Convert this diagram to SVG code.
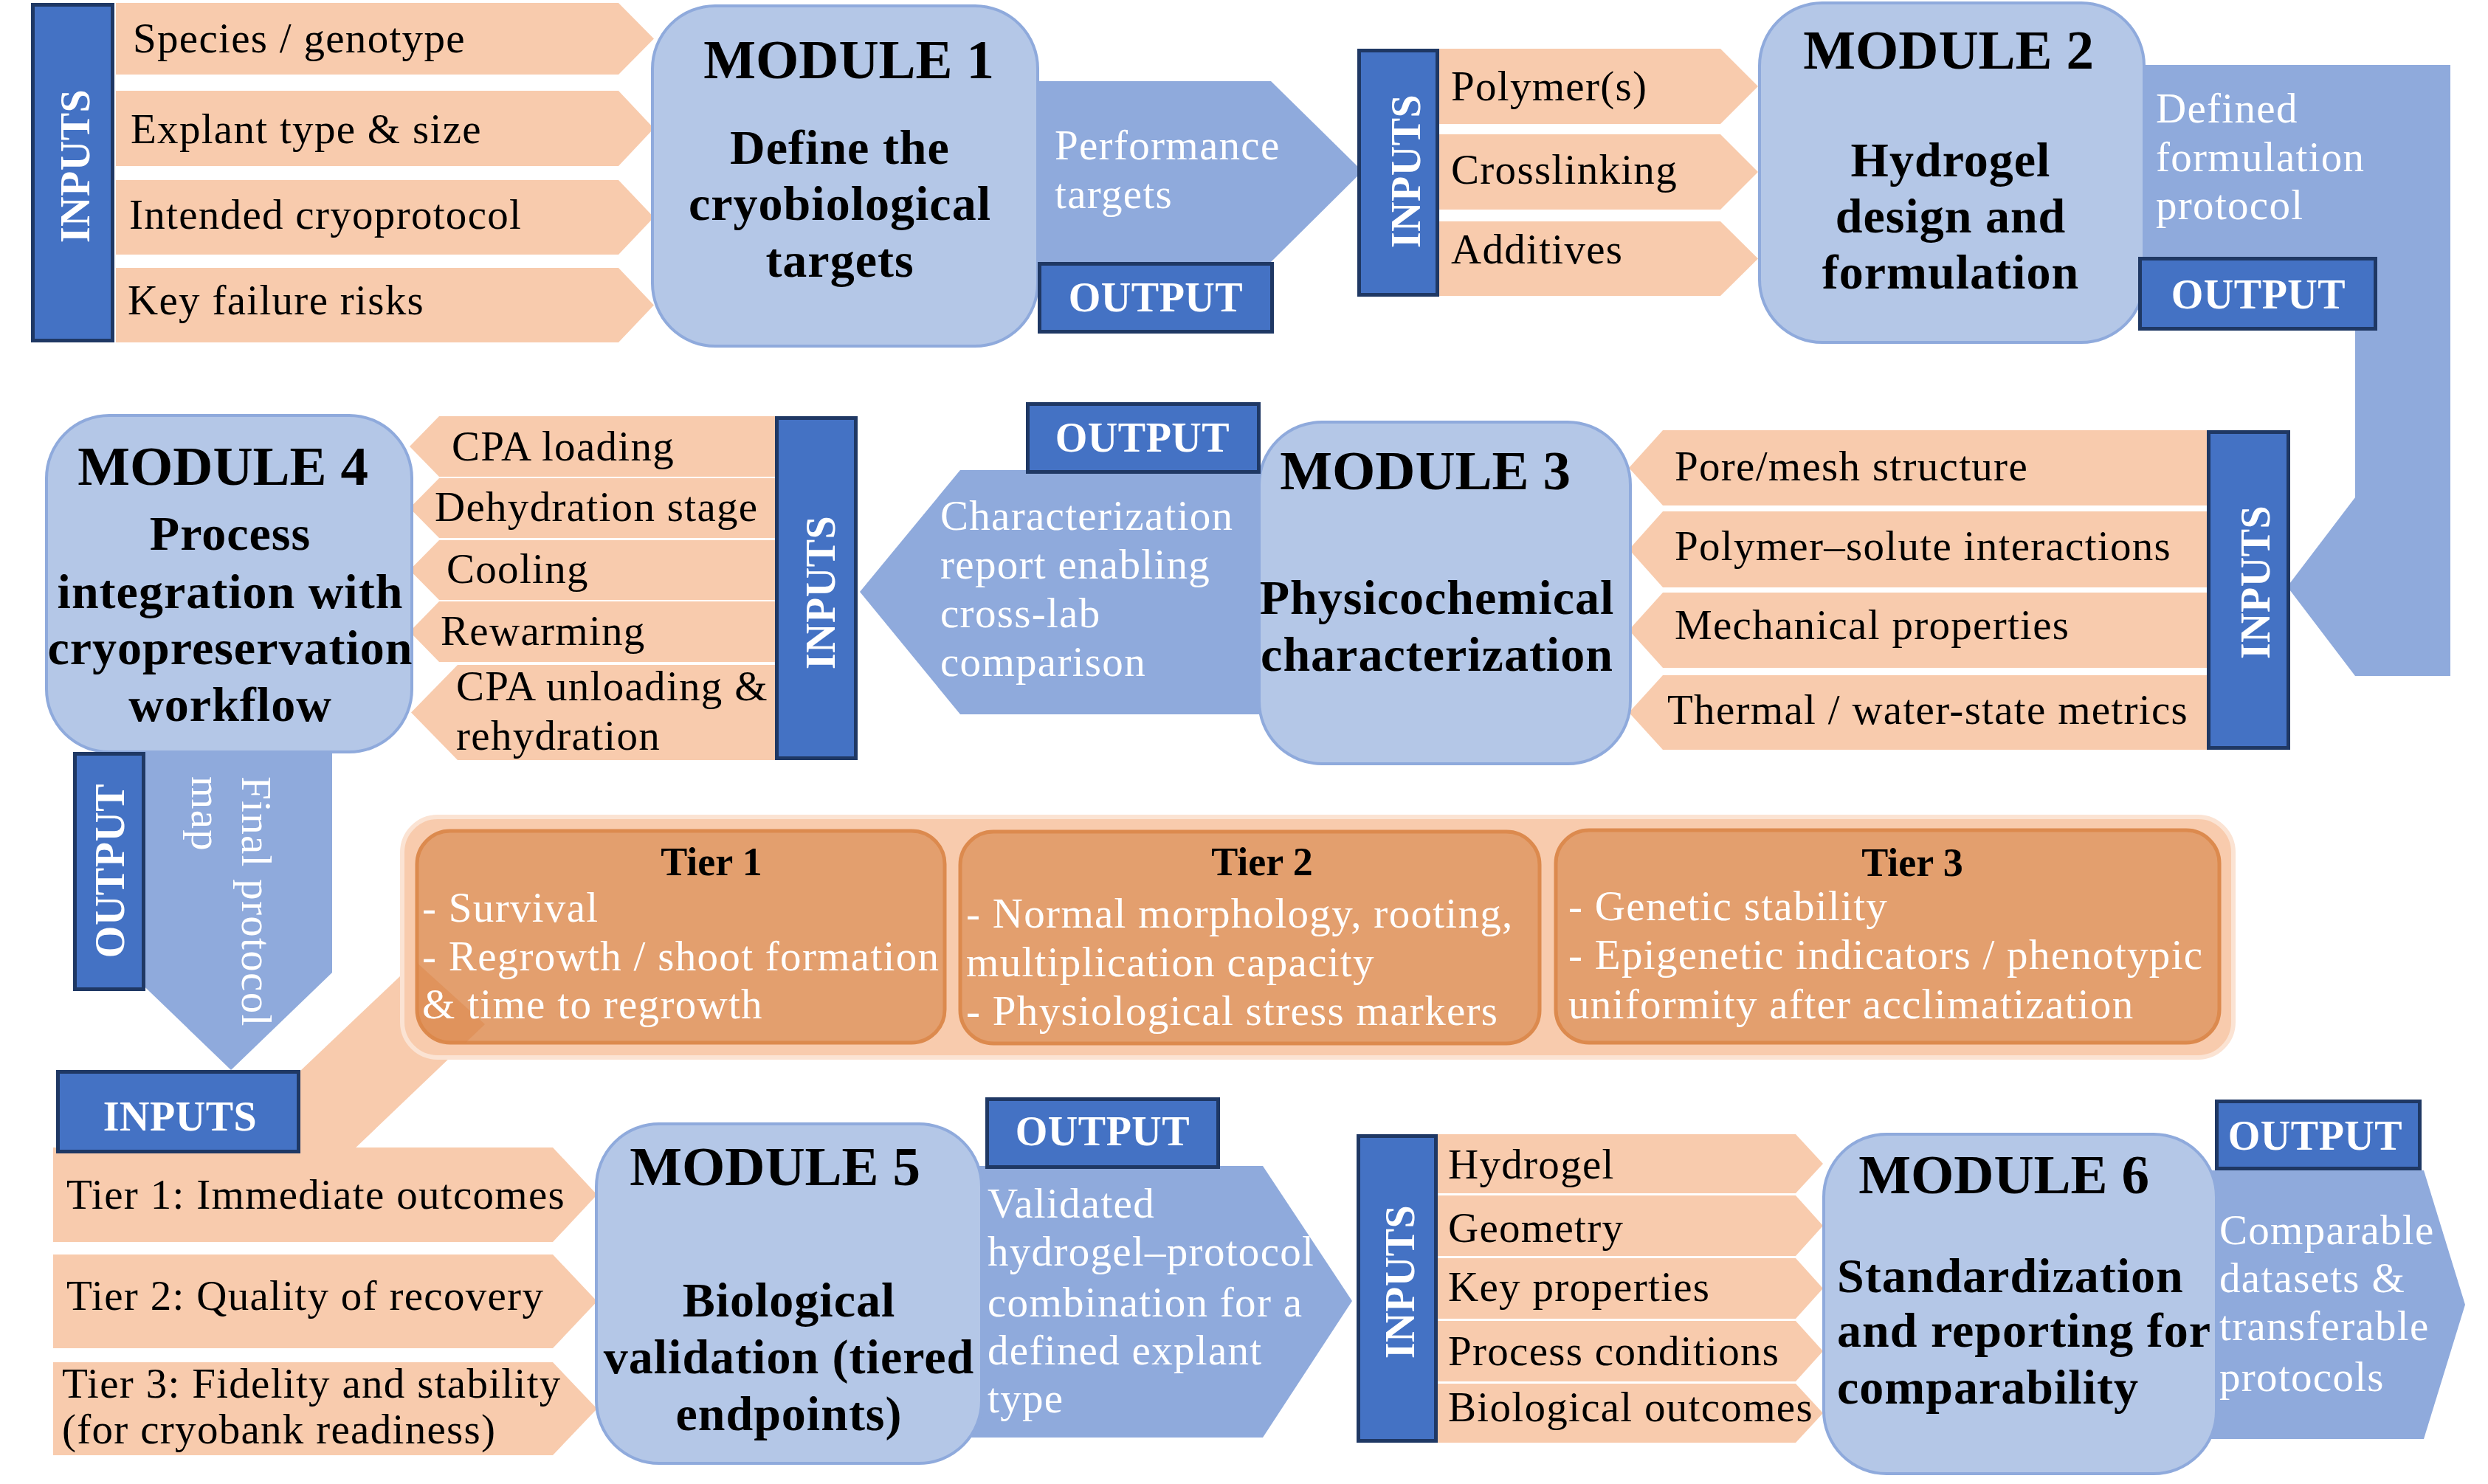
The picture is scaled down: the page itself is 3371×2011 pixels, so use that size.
<svg xmlns="http://www.w3.org/2000/svg" width="3371" height="2011" viewBox="0 0 3371 2011">
<defs>
<style>
.pe{fill:#F8CBAD}
.ib{fill:#4472C4;stroke:#1F3864;stroke-width:5}
.mod{fill:#B4C7E7;stroke:#8FAADC;stroke-width:4}
.out{fill:#8FAADC}
.t{font-family:"Liberation Serif","Times New Roman",serif;font-size:57px;letter-spacing:1.3px;fill:#000}
.w{fill:#fff}
.mt{font-weight:bold;font-size:75px;text-anchor:middle;letter-spacing:0}
.ms{font-weight:bold;font-size:66px;text-anchor:middle;letter-spacing:1px}
.msl{font-weight:bold;font-size:66px;letter-spacing:1px}
.lb{font-weight:bold;font-size:56px;fill:#fff;text-anchor:middle;letter-spacing:0.5px}
.tt{font-weight:bold;font-size:54px;text-anchor:middle;letter-spacing:0}
.tier{fill:#E39F6E;stroke:#DC8A4E;stroke-width:5}
</style>
<clipPath id="clipT1"><rect x="565" y="1126" width="715" height="287" rx="45"/></clipPath>
</defs>
<rect width="3371" height="2011" fill="#fff"/>

<g id="connectors">
  <polygon class="out" points="1380,110 1722,110 1846,232 1722,355 1380,355"/>
  <polygon class="out" points="2880,88 3320,88 3320,916 3191,916 3099,795 3191,674 3191,400 2880,400"/>
  <polygon class="out" points="1165,802 1301,637 1760,637 1760,968 1301,968"/>
  <polygon class="out" points="176,990 450,990 450,1318 313,1450 176,1318"/>
  <polygon class="out" points="1300,1580 1711,1580 1832,1763 1711,1948 1300,1948"/>
  <polygon class="out" points="2970,1586 3284,1586 3340,1768 3284,1950 2970,1950"/>
  <polygon class="pe" id="tier-link" points="563,1303 657,1388 435,1600 250,1600"/>
  <g class="t w">
    <text x="1429" y="216">Performance</text>
    <text x="1429" y="282">targets</text>
    <text x="2921" y="166">Defined</text>
    <text x="2921" y="232">formulation</text>
    <text x="2921" y="297">protocol</text>
    <text x="1274" y="718">Characterization</text>
    <text x="1274" y="784">report enabling</text>
    <text x="1274" y="850">cross-lab</text>
    <text x="1274" y="916">comparison</text>
    <text transform="translate(328,1052) rotate(90)"><tspan x="0" y="0">Final protocol</tspan><tspan x="0" y="68">map</tspan></text>
    <text x="1338" y="1650">Validated</text>
    <text x="1338" y="1715">hydrogel–protocol</text>
    <text x="1338" y="1784">combination for a</text>
    <text x="1338" y="1849">defined explant</text>
    <text x="1338" y="1914">type</text>
    <text x="3007" y="1686">Comparable</text>
    <text x="3007" y="1751">datasets &amp;</text>
    <text x="3007" y="1816">transferable</text>
    <text x="3007" y="1885">protocols</text>
  </g>
</g>

<g id="tiers">
  <rect x="545" y="1107" width="2481" height="326" rx="48" fill="#F8CBAD" stroke="#FBE3D3" stroke-width="6"/>
  <rect class="tier" x="565" y="1126" width="715" height="287" rx="45"/>
  <rect class="tier" x="1301" y="1127" width="785" height="287" rx="45"/>
  <rect class="tier" x="2108" y="1125" width="899" height="288" rx="45"/>
  <polygon points="563,1303 657,1388 435,1600 250,1600" fill="#DC8448" opacity="0.45" clip-path="url(#clipT1)"/>
  <g class="t">
    <text class="tt" x="964" y="1186">Tier 1</text>
    <text class="tt" x="1710" y="1186">Tier 2</text>
    <text class="tt" x="2591" y="1187">Tier 3</text>
  </g>
  <g class="t w">
    <text x="572" y="1249">- Survival</text>
    <text x="572" y="1315">- Regrowth / shoot formation</text>
    <text x="572" y="1380">&amp; time to regrowth</text>
    <text x="1309" y="1257">- Normal morphology, rooting,</text>
    <text x="1309" y="1323">multiplication capacity</text>
    <text x="1309" y="1389">- Physiological stress markers</text>
    <text x="2125" y="1247">- Genetic stability</text>
    <text x="2125" y="1313">- Epigenetic indicators / phenotypic</text>
    <text x="2125" y="1380">uniformity after acclimatization</text>
  </g>
</g>

<g id="m1-inputs">
  <polygon class="pe" points="157,4 838,4 886,52.5 838,101 157,101"/>
  <polygon class="pe" points="157,123 838,123 886,174 838,225 157,225"/>
  <polygon class="pe" points="157,244 838,244 886,294.5 838,345 157,345"/>
  <polygon class="pe" points="157,363 838,363 886,413.5 838,464 157,464"/>
  <rect class="ib" x="44.5" y="6.5" width="108" height="455"/>
  <text class="t lb" transform="translate(121,225) rotate(-90)">INPUTS</text>
  <g class="t">
    <text x="180" y="71">Species / genotype</text>
    <text x="177" y="194">Explant type &amp; size</text>
    <text x="175" y="310">Intended cryoprotocol</text>
    <text x="173" y="426">Key failure risks</text>
  </g>
</g>

<g id="module1">
  <rect class="mod" x="884" y="8" width="522" height="461" rx="85"/>
  <g class="t">
    <text class="mt" x="1150" y="106">MODULE 1</text>
    <text class="ms" x="1138" y="222">Define the</text>
    <text class="ms" x="1138" y="298">cryobiological</text>
    <text class="ms" x="1138" y="375">targets</text>
  </g>
</g>
<g id="m1-output">
  <rect class="ib" x="1408.5" y="357.5" width="315" height="92"/>
  <text class="t lb" x="1566" y="422">OUTPUT</text>
</g>

<g id="m2-inputs">
  <polygon class="pe" points="1950,66 2331,66 2382,117 2331,168 1950,168"/>
  <polygon class="pe" points="1950,182 2331,182 2382,233 2331,284 1950,284"/>
  <polygon class="pe" points="1950,300 2331,300 2382,350.5 2331,401 1950,401"/>
  <rect class="ib" x="1841.5" y="68.5" width="106" height="331"/>
  <text class="t lb" transform="translate(1924,232) rotate(-90)">INPUTS</text>
  <g class="t">
    <text x="1966" y="136">Polymer(s)</text>
    <text x="1966" y="249">Crosslinking</text>
    <text x="1966" y="357">Additives</text>
  </g>
</g>

<g id="module2">
  <rect class="mod" x="2384" y="4" width="521" height="460" rx="85"/>
  <g class="t">
    <text class="mt" x="2640" y="93">MODULE 2</text>
    <text class="ms" x="2643" y="239">Hydrogel</text>
    <text class="ms" x="2643" y="315">design and</text>
    <text class="ms" x="2643" y="391">formulation</text>
  </g>
</g>
<g id="m2-output">
  <rect class="ib" x="2899.5" y="350.5" width="319" height="95"/>
  <text class="t lb" x="3060" y="418">OUTPUT</text>
</g>

<g id="m3-inputs">
  <polygon class="pe" points="2207,634 2253,583 2995,583 2995,685 2253,685"/>
  <polygon class="pe" points="2207,744.5 2253,693 2995,693 2995,796 2253,796"/>
  <polygon class="pe" points="2207,854 2253,803 2995,803 2995,905 2253,905"/>
  <polygon class="pe" points="2207,965.5 2253,915 2995,915 2995,1016 2253,1016"/>
  <rect class="ib" x="2992.5" y="585.5" width="108" height="428"/>
  <text class="t lb" transform="translate(3075,789) rotate(-90)">INPUTS</text>
  <g class="t">
    <text x="2269" y="651">Pore/mesh structure</text>
    <text x="2269" y="759">Polymer–solute interactions</text>
    <text x="2269" y="866">Mechanical properties</text>
    <text x="2259" y="981">Thermal / water-state metrics</text>
  </g>
</g>

<g id="module3">
  <rect class="mod" x="1706" y="572" width="503" height="463" rx="85"/>
  <g class="t">
    <text class="mt" x="1931" y="663">MODULE 3</text>
    <text class="ms" x="1947" y="832">Physicochemical</text>
    <text class="ms" x="1947" y="909">characterization</text>
  </g>
</g>
<g id="m3-output">
  <rect class="ib" x="1392.5" y="547.5" width="313" height="92"/>
  <text class="t lb" x="1548" y="612">OUTPUT</text>
</g>

<g id="m4-inputs">
  <polygon class="pe" points="555,605 595,564 1055,564 1055,646 595,646"/>
  <polygon class="pe" points="555,688.5 595,648 1055,648 1055,729 595,729"/>
  <polygon class="pe" points="555,772.5 595,732 1055,732 1055,813 595,813"/>
  <polygon class="pe" points="555,856 595,815 1055,815 1055,897 595,897"/>
  <polygon class="pe" points="557,965.5 620,901 1055,901 1055,1030 620,1030"/>
  <rect class="ib" x="1052.5" y="566.5" width="107" height="461"/>
  <text class="t lb" transform="translate(1131,803) rotate(-90)">INPUTS</text>
  <g class="t">
    <text x="612" y="624">CPA loading</text>
    <text x="589" y="706">Dehydration stage</text>
    <text x="605" y="790">Cooling</text>
    <text x="597" y="874">Rewarming</text>
    <text x="618" y="949">CPA unloading &amp;</text>
    <text x="618" y="1016">rehydration</text>
  </g>
</g>

<g id="module4">
  <rect class="mod" x="63" y="563" width="495" height="456" rx="85"/>
  <g class="t">
    <text class="mt" x="302" y="657">MODULE 4</text>
    <text class="ms" x="312" y="745">Process</text>
    <text class="ms" x="312" y="824">integration with</text>
    <text class="ms" x="312" y="900">cryopreservation</text>
    <text class="ms" x="312" y="977">workflow</text>
  </g>
</g>
<g id="m4-output">
  <rect class="ib" x="101.5" y="1021.5" width="93" height="319"/>
  <text class="t lb" transform="translate(168,1180) rotate(-90)">OUTPUT</text>
</g>

<g id="m5-inputs">
  <polygon class="pe" points="72,1555 749,1555 809,1619 749,1683 72,1683"/>
  <polygon class="pe" points="72,1700 749,1700 809,1763.5 749,1827 72,1827"/>
  <polygon class="pe" points="72,1846 749,1846 809,1909 749,1972 72,1972"/>
  <rect class="ib" x="78.5" y="1452.5" width="326" height="108"/>
  <text class="t lb" x="244" y="1532">INPUTS</text>
  <g class="t">
    <text x="90" y="1638">Tier 1: Immediate outcomes</text>
    <text x="90" y="1775">Tier 2: Quality of recovery</text>
    <text x="84" y="1894">Tier 3: Fidelity and stability</text>
    <text x="84" y="1956">(for cryobank readiness)</text>
  </g>
</g>

<g id="module5">
  <rect class="mod" x="808" y="1523" width="522" height="460" rx="85"/>
  <g class="t">
    <text class="mt" x="1050" y="1606">MODULE 5</text>
    <text class="ms" x="1069" y="1784">Biological</text>
    <text class="ms" x="1069" y="1861">validation (tiered</text>
    <text class="ms" x="1069" y="1938">endpoints)</text>
  </g>
</g>
<g id="m5-output">
  <rect class="ib" x="1337.5" y="1489.5" width="313" height="92"/>
  <text class="t lb" x="1494" y="1552">OUTPUT</text>
</g>

<g id="m6-inputs">
  <polygon class="pe" points="1946,1537 2433,1537 2470,1577 2433,1617 1946,1617"/>
  <polygon class="pe" points="1946,1620 2433,1620 2470,1661 2433,1702 1946,1702"/>
  <polygon class="pe" points="1946,1705 2433,1705 2470,1746 2433,1787 1946,1787"/>
  <polygon class="pe" points="1946,1790 2433,1790 2470,1831 2433,1872 1946,1872"/>
  <polygon class="pe" points="1946,1875 2433,1875 2470,1915 2433,1955 1946,1955"/>
  <rect class="ib" x="1840.5" y="1539.5" width="105" height="413"/>
  <text class="t lb" transform="translate(1916,1737) rotate(-90)">INPUTS</text>
  <g class="t">
    <text x="1962" y="1597">Hydrogel</text>
    <text x="1962" y="1683">Geometry</text>
    <text x="1962" y="1763">Key properties</text>
    <text x="1962" y="1850">Process conditions</text>
    <text x="1962" y="1926">Biological outcomes</text>
  </g>
</g>

<g id="module6">
  <rect class="mod" x="2471" y="1537" width="532" height="460" rx="85"/>
  <g class="t">
    <text class="mt" x="2715" y="1617">MODULE 6</text>
    <text class="msl" x="2489" y="1751">Standardization</text>
    <text class="msl" x="2489" y="1825">and reporting for</text>
    <text class="msl" x="2489" y="1902">comparability</text>
  </g>
</g>
<g id="m6-output">
  <rect class="ib" x="3003.5" y="1492.5" width="275" height="91"/>
  <text class="t lb" x="3137" y="1558">OUTPUT</text>
</g>
</svg>
